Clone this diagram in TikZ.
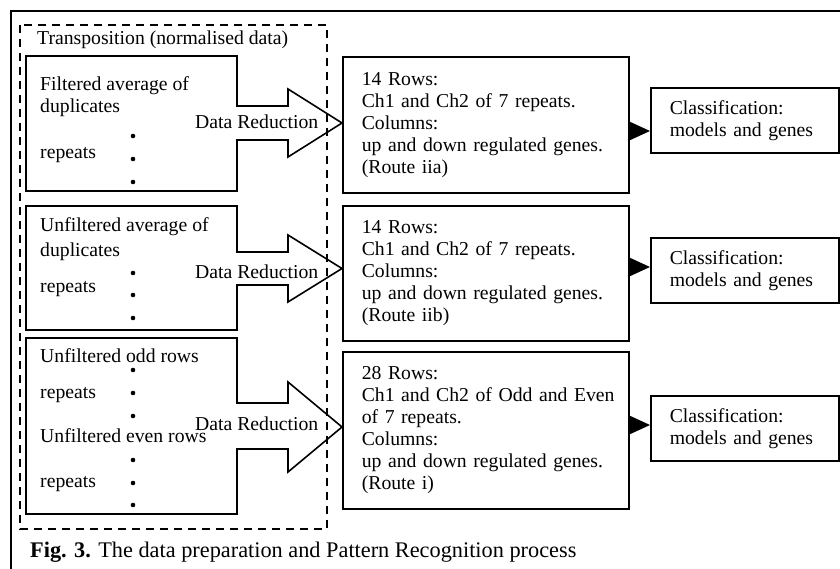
\documentclass[tikz,border=0pt]{standalone}
\usepackage{fontspec}
\setmainfont{Liberation Serif}
\usepackage{tikz}
\usetikzlibrary{arrows.meta}

\tikzset{
  lbl/.style={anchor=base west,inner sep=0pt,font=\fontsize{19.7}{22}\selectfont},
  blockarrow/.style={draw,line width=1.6pt,line join=miter},
  rowbox/.style={draw,line width=1.6pt,anchor=north west,align=left,inner xsep=19pt,
    text width=248pt,minimum height=#1,font=\fontsize{19.7}{22}\selectfont},
  classbox/.style={draw,line width=1.6pt,anchor=north west,align=left,inner xsep=19pt,
    text width=150pt,minimum height=65pt,font=\fontsize{19.7}{22}\selectfont},
}

\begin{document}
\begin{tikzpicture}[x=1pt,y=-1pt,>={Triangle[length=20pt,width=18pt]}]
  \useasboundingbox (0,0) rectangle (840,569);
  % frame and transposition area
  \draw[line width=2.2pt] (11,569) -- (11,11) -- (840,11);
  \draw[line width=1.8pt,dash pattern=on 8pt off 6pt] (20,25) rectangle (327,529);
  \node[lbl] (trans) at (37,45) {Transposition (normalised data)};

  % input boxes with their data reduction arrows
  \draw[blockarrow] (26,56) -- (237,56) -- (237,106) -- (288,106) -- (288,89) -- (342,123)
    -- (288,157) -- (288,140) -- (237,140) -- (237,191) -- (26,191) -- cycle;
  \draw[blockarrow] (26,206) -- (237,206) -- (237,252) -- (288,252) -- (288,235) -- (342,268.5)
    -- (288,302) -- (288,285) -- (237,285) -- (237,330) -- (26,330) -- cycle;
  \draw[blockarrow] (26,338) -- (237,338) -- (237,403) -- (288,403) -- (288,382) -- (342,427)
    -- (288,472) -- (288,449) -- (237,449) -- (237,514) -- (26,514) -- cycle;

  \node[lbl] (f1) at (40,91) {Filtered average of};
  \node[lbl] (f2) at (40,113) {duplicates};
  \node[lbl] (f3) at (40,159) {repeats};
  \node[lbl] (u1) at (40,232) {Unfiltered average of};
  \node[lbl] (u2) at (40,257) {duplicates};
  \node[lbl] (u3) at (40,292) {repeats};
  \node[lbl] (o1) at (40,362) {Unfiltered odd rows};
  \node[lbl] (o2) at (40,398) {repeats};
  \node[lbl] (e1) at (40,442) {Unfiltered even rows};
  \node[lbl] (e2) at (40,487) {repeats};
  \foreach \y in {136,159,182,273,295,318,370,393,416,460,483,505}
    \fill (133,\y) circle (2.3);

  \node[lbl] (dr1) at (195,129) {Data Reduction};
  \node[lbl] (dr2) at (195,279) {Data Reduction};
  \node[lbl] (dr3) at (195,430) {Data Reduction};

  % reduced data sets
  \node[rowbox=136pt] (r1) at (342,56) {14 Rows:\\Ch1 and Ch2 of 7 repeats.\\Columns:\\up and down regulated genes.\\(Route iia)};
  \node[rowbox=135pt] (r2) at (342,205) {14 Rows:\\Ch1 and Ch2 of 7 repeats.\\Columns:\\up and down regulated genes.\\(Route iib)};
  \node[rowbox=157pt] (r3) at (342,351) {28 Rows:\\\mbox{Ch1 and Ch2 of Odd and Even}\\of 7 repeats.\\Columns:\\up and down regulated genes.\\(Route i)};

  % classification
  \node[classbox] (c1) at (650,87) {Classification:\\models and genes};
  \node[classbox] (c2) at (650,237) {Classification:\\models and genes};
  \node[classbox] (c3) at (650,395) {Classification:\\models and genes};

  \coordinate (a1) at (0,131);
  \coordinate (a2) at (0,267);
  \coordinate (a3) at (0,425);
  \draw[->,line width=1.5pt] (r1.east |- a1) -- (c1.west |- a1);
  \draw[->,line width=1.5pt] (r2.east |- a2) -- (c2.west |- a2);
  \draw[->,line width=1.5pt] (r3.east |- a3) -- (c3.west |- a3);

  \node[anchor=base west,inner sep=0pt,font=\fontsize{22.3}{25}\selectfont] (cap) at (30,557)
    {\textbf{Fig. 3.} The data preparation and Pattern Recognition process};
\end{tikzpicture}
\end{document}
